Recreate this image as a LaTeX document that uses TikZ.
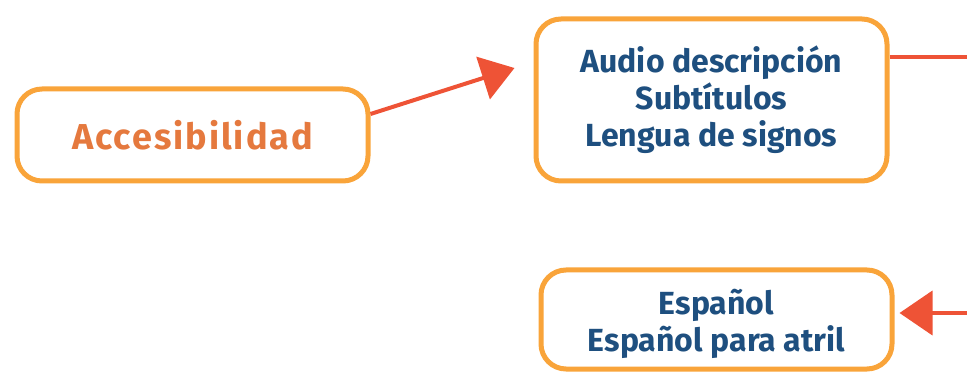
\documentclass[tikz,border=0pt]{standalone}
\usepackage{fontspec}
\setmainfont{Fira Sans}
\usetikzlibrary{arrows.meta,calc}
\definecolor{boxorange}{HTML}{F9A43A}
\definecolor{arrred}{HTML}{EE5336}
\definecolor{txtorange}{HTML}{E5793E}
\definecolor{txtblue}{HTML}{1E4F7F}
\tikzset{
  box/.style={draw=boxorange, line width=5pt, rounded corners=25pt, fill=white,
    minimum width=351pt, align=center, inner sep=0pt, font=\bfseries\fontsize{32}{37}\selectfont, text=txtblue},
  arr/.style={draw=arrred, line width=4pt, -{Triangle[length=33pt,width=44pt]}},
  ln/.style={draw=arrred, line width=4pt}
}
\begin{document}
\begin{tikzpicture}[x=1pt,y=-1pt]
\useasboundingbox (0,0) rectangle (967,374);
\node[box, minimum height=92pt, text=txtorange, font=\bfseries\fontsize{36}{40}\selectfont\addfontfeature{LetterSpace=5.5}] (A) at (192.5,135) {Accesibilidad};
\node[box, minimum height=162pt] (B) at (711.5,100) {Audio descripción\\Subtítulos\\Lengua de signos};
\node[box, minimum height=99pt] (C) at (716.5,319.5) {\rule{0pt}{35pt}Español\\Español para atril};
\coordinate (outR) at (967,57);
\coordinate (inR) at (967,313);
\draw[arr] ([yshift=21pt]A.east) -- ([xshift=-19pt,yshift=32pt]B.west);
\draw[ln] ([yshift=43pt]B.east) -- (outR);
\draw[arr] (inR) -- ([xshift=5pt,yshift=6.5pt]C.east);
\end{tikzpicture}
\end{document}
